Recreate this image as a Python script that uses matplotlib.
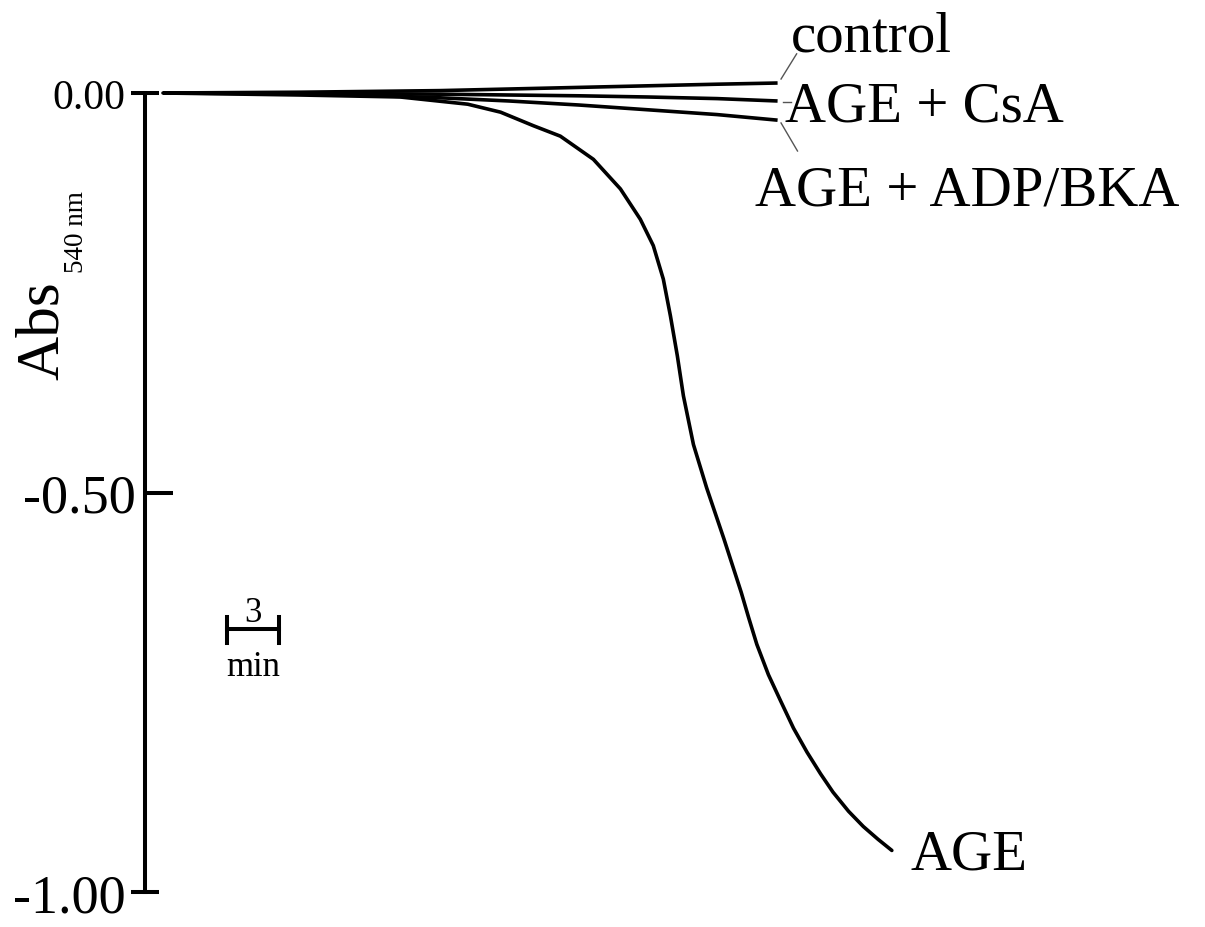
import matplotlib
matplotlib.use("Agg")
import matplotlib.pyplot as plt

plt.rcParams['font.family'] = ['Liberation Serif', 'DejaVu Serif']

# time in minutes, absorbance change at 540 nm
time_flat = [0, 4, 8, 12, 16, 20, 24, 28, 32, 35.5]
control = [0, 0.0005, 0.001, 0.002, 0.003, 0.005, 0.007, 0.009, 0.011, 0.0125]
age_csa = [0, 0, -0.0005, -0.001, -0.0015, -0.0025, -0.0035, -0.005, -0.007, -0.010]
age_adp_bka = [0, -0.0005, -0.001, -0.003, -0.006, -0.010, -0.015, -0.021, -0.027, -0.034]

time_age = [0, 7.9, 13.7, 17.6, 19.5, 21.4, 22.95, 24.86, 26.42, 27.57, 28.32,
            28.90, 29.31, 29.71, 30.06, 30.64, 31.4, 32.4, 33.4, 33.82, 34.3,
            34.97, 35.7, 36.42, 37.2, 37.98, 38.7, 39.6, 40.45, 41.3, 42.1]
age = [0, -0.0025, -0.005, -0.014, -0.024, -0.041, -0.054, -0.083, -0.120, -0.158,
       -0.191, -0.233, -0.279, -0.329, -0.379, -0.440, -0.494, -0.558, -0.625,
       -0.656, -0.690, -0.728, -0.762, -0.795, -0.825, -0.852, -0.875, -0.899,
       -0.918, -0.934, -0.948]

fig = plt.figure(figsize=(12.05, 9.28), dpi=100)
ax = fig.add_axes([145 / 1205, 1 - 893 / 928, (1200 - 145) / 1205, (893 - 94) / 928])
ax.set_xlim(-1.04, 59.9)
ax.set_ylim(-1.0, 0.0)

lw = 2.6
for y in (control, age_csa, age_adp_bka):
    ax.plot(time_flat, y, color='black', lw=lw, clip_on=False, solid_capstyle='butt')
ax.plot(time_age, age, color='black', lw=lw, clip_on=False,
        solid_capstyle='round', solid_joinstyle='round')

for s in ('top', 'right', 'bottom'):
    ax.spines[s].set_visible(False)
ax.spines['left'].set_linewidth(2.9)
ax.set_xticks([])

ax.set_yticks([0.0, -1.0], labels=['0.00', '-1.00'])
ax.set_yticks([-0.5], labels=['-0.50'], minor=True)
ax.tick_params(axis='y', which='major', direction='inout', length=20, width=2.9,
               pad=4, labelsize=39)
ax.tick_params(axis='y', which='minor', direction='in', length=20, width=2.9,
               pad=7, labelsize=39)
for lab in ax.get_yticklabels():
    if lab.get_text() == '0.00':
        lab.set_fontsize(30)

# y label with subscript
fig.text(58 / 1205, 1 - 380 / 928, 'Abs', rotation=90, rotation_mode='anchor',
         ha='left', va='baseline', fontsize=44)
fig.text(83 / 1205, 1 - 273 / 928, '540 nm', rotation=90, rotation_mode='anchor',
         ha='left', va='baseline', fontsize=19.5)

# curve labels
ax.text(36.24, 0.0526, 'control', fontsize=41, ha='left', va='baseline', clip_on=False)
ax.text(35.95, -0.035, 'AGE + CsA', fontsize=41, ha='left', va='baseline', clip_on=False)
ax.text(34.2, -0.139, 'AGE + ADP/BKA', fontsize=41, ha='left', va='baseline', clip_on=False)
ax.text(43.2, -0.971, 'AGE', fontsize=41, ha='left', va='baseline', clip_on=False)

# leader lines
lc = '#555555'
ax.plot([35.7, 36.6], [0.0175, 0.049], color=lc, lw=1, clip_on=False)
ax.plot([35.8, 36.3], [-0.011, -0.011], color=lc, lw=1, clip_on=False)
ax.plot([35.7, 36.65], [-0.0375, -0.0726], color=lc, lw=1, clip_on=False)

# time scale bar (3 min)
bar_x = [3.70, 6.71]
bar_y = -0.671
ax.plot(bar_x, [bar_y, bar_y], color='black', lw=2.9)
for bx in bar_x:
    ax.plot([bx, bx], [-0.656, -0.688], color='black', lw=2.9)
ax.text(sum(bar_x) / 2, -0.661, '3', fontsize=25, ha='center', va='baseline')
ax.text(sum(bar_x) / 2, -0.728, 'min', fontsize=25, ha='center', va='baseline')

fig.savefig('out.png', dpi=100)
